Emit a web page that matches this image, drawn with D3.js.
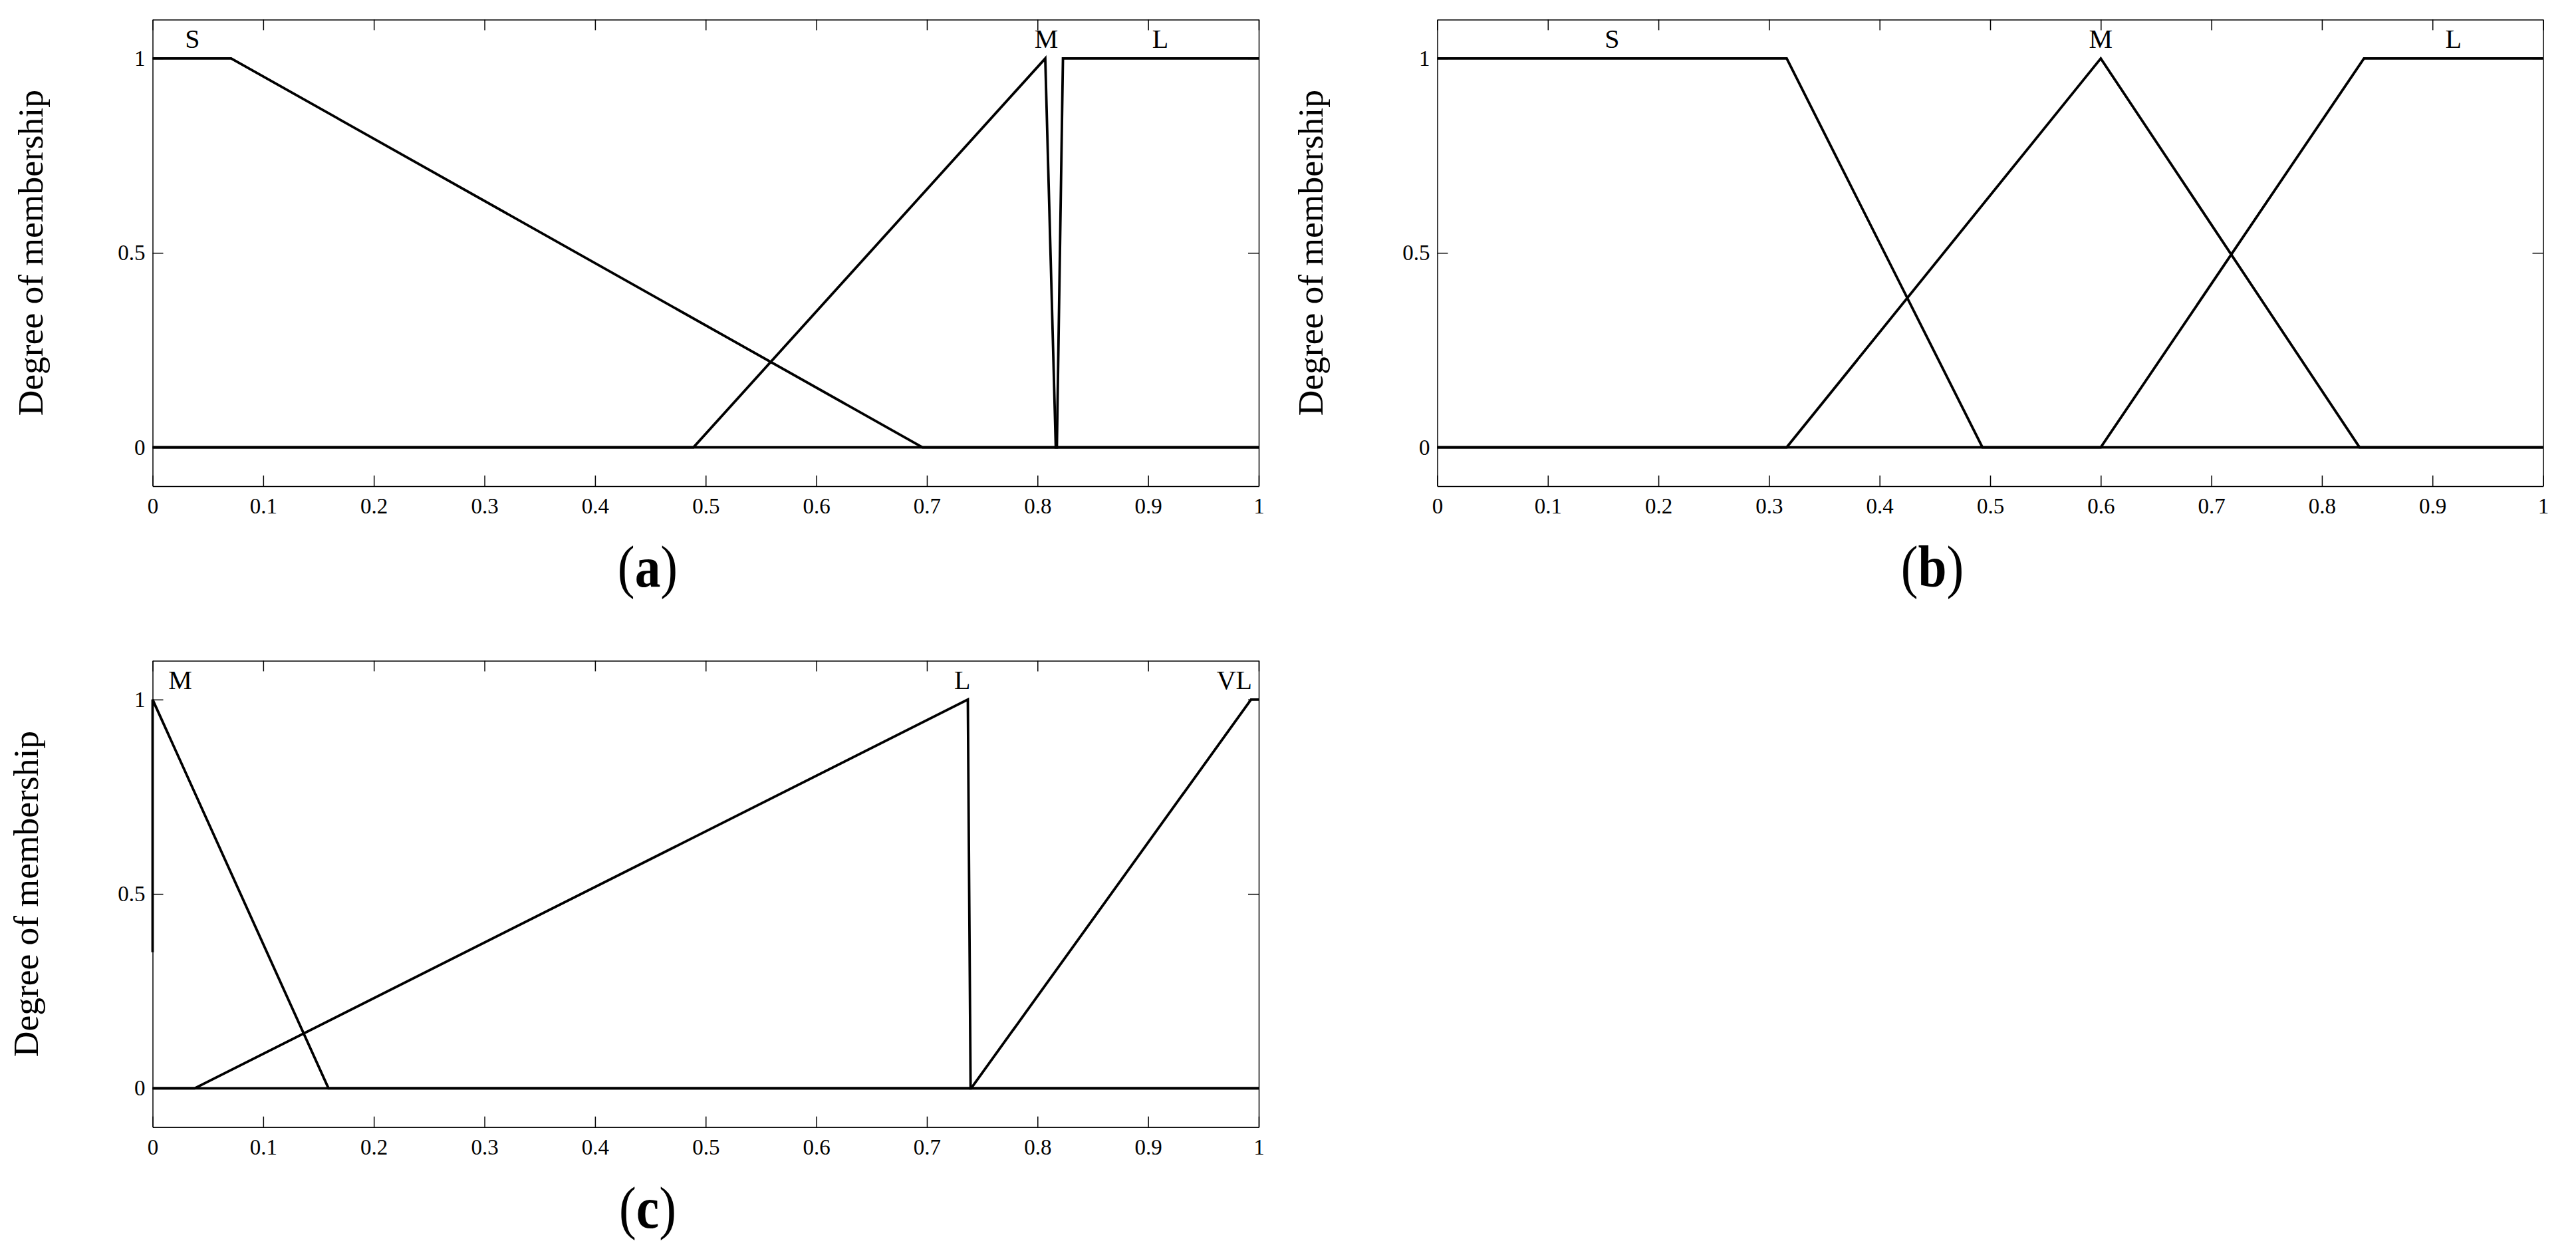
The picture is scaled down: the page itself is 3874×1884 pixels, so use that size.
<!DOCTYPE html>
<html>
<head>
<meta charset="utf-8">
<script src="https://cdn.jsdelivr.net/npm/d3@7"></script>
<style>
  body { margin: 0; background: #fff; }
  text { font-family: "Liberation Serif", "Times New Roman", serif; fill: #000; }
</style>
</head>
<body>
<script>
// tick values shared by all three panels
const xTicks = [0, 0.1, 0.2, 0.3, 0.4, 0.5, 0.6, 0.7, 0.8, 0.9, 1];
const yTicks = [0, 0.5, 1];

// (a) membership functions, [x, degree]
const aS = [[0, 1], [0.071, 1], [0.696, 0], [1, 0]];
const aM = [[0, 0], [0.489, 0], [0.807, 1], [0.8165, 0], [1, 0]];
const aL = [[0, 0], [0.8175, 0], [0.823, 1], [1, 1]];
const aNames = ["S", "M", "L"];
const aNameX = [0.036, 0.808, 0.911];

// (b)
const bS = [[0, 1], [0.316, 1], [0.493, 0], [1, 0]];
const bM = [[0, 0], [0.316, 0], [0.6, 1], [0.834, 0], [1, 0]];
const bL = [[0, 0], [0.6, 0], [0.838, 1], [1, 1]];
const bNames = ["S", "M", "L"];
const bNameX = [0.158, 0.6, 0.919];

// (c)
const cM = [[0, 0.35], [0, 1], [0.159, 0], [1, 0]];
const cL = [[0, 0], [0.038, 0], [0.737, 1], [0.7395, 0], [1, 0]];
const cVL = [[0, 0], [0.74, 0], [0.993, 1], [1, 1]];
const cNames = ["M", "L", "VL"];
const cNameX = [0.025, 0.732, 0.978];

const nameY = 1.027;

const WIDTH = 3874;
const HEIGHT = 1884;

const svg = d3.select("body")
  .append("svg")
  .attr("width", WIDTH)
  .attr("height", HEIGHT)
  .style("background", "#fff");

const panels = [
  { left: 229.5, top: 29.4, w: 1663.5, h: 701.6, series: [aS, aM, aL], names: aNames, nameX: aNameX,
    caption: "a", capX: 974, capY: 882, ylabX: -166 },
  { left: 2161.5, top: 29.4, w: 1663, h: 701.6, series: [bS, bM, bL], names: bNames, nameX: bNameX,
    caption: "b", capX: 2906, capY: 882, ylabX: -172.5 },
  { left: 229.5, top: 993.4, w: 1663.5, h: 701.4, series: [cM, cL, cVL], names: cNames, nameX: cNameX,
    caption: "c", capX: 974, capY: 1846, ylabX: -172.5 }
];

function drawPanel(p) {
  const g = svg.append("g").attr("transform", `translate(${p.left},${p.top})`);

  const x = d3.scaleLinear().domain([0, 1]).range([0, p.w]);
  const y = d3.scaleLinear().domain([-0.1, 1.1]).range([p.h, 0]);

  const fmt = d => String(d);

  // bottom axis with labels, ticks pointing inward
  g.append("g")
    .attr("transform", `translate(0,${p.h})`)
    .call(d3.axisBottom(x).tickValues(xTicks).tickSizeInner(-16).tickSizeOuter(0).tickPadding(17.5).tickFormat(fmt));
  // top axis, no labels
  g.append("g")
    .call(d3.axisTop(x).tickValues(xTicks).tickSizeInner(-16).tickSizeOuter(0).tickFormat(""));
  // left axis with labels
  g.append("g")
    .call(d3.axisLeft(y).tickValues(yTicks).tickSizeInner(-16).tickSizeOuter(0).tickPadding(11).tickFormat(fmt));
  // right axis
  g.append("g")
    .attr("transform", `translate(${p.w},0)`)
    .call(d3.axisRight(y).tickValues(yTicks).tickSizeInner(-16).tickSizeOuter(0).tickFormat(""));

  g.selectAll(".domain, .tick line")
    .attr("stroke", "#000")
    .attr("stroke-width", 1.5);
  g.selectAll(".tick text")
    .attr("font-family", "Liberation Serif")
    .attr("font-size", 33);

  // membership curves
  const line = d3.line()
    .x(d => x(d[0]))
    .y(d => y(d[1]));

  g.selectAll("path.curve")
    .data(p.series)
    .enter()
    .append("path")
    .attr("class", "curve")
    .attr("d", line)
    .attr("fill", "none")
    .attr("stroke", "#000")
    .attr("stroke-width", 3.8)
    .attr("stroke-linejoin", "miter");

  // set names above the peaks
  g.selectAll("text.name")
    .data(p.names)
    .enter()
    .append("text")
    .attr("class", "name")
    .attr("text-anchor", "middle")
    .attr("font-size", 40)
    .attr("x", (d, i) => x(p.nameX[i]))
    .attr("y", y(nameY))
    .text(d => d);

  // y axis title
  g.append("text")
    .attr("text-anchor", "middle")
    .attr("font-size", 53.5)
    .attr("transform", `translate(${p.ylabX},${p.h / 2}) rotate(-90)`)
    .text("Degree of membership");

  // caption (a), (b), (c)
  const cap = svg.append("text")
    .attr("text-anchor", "middle")
    .attr("font-size", 88)
    .attr("transform", `translate(${p.capX},${p.capY}) scale(0.88,1)`);
  cap.append("tspan").text("(");
  cap.append("tspan").attr("font-weight", "bold").text(p.caption);
  cap.append("tspan").text(")");
}

panels.forEach(drawPanel);
</script>
</body>
</html>
